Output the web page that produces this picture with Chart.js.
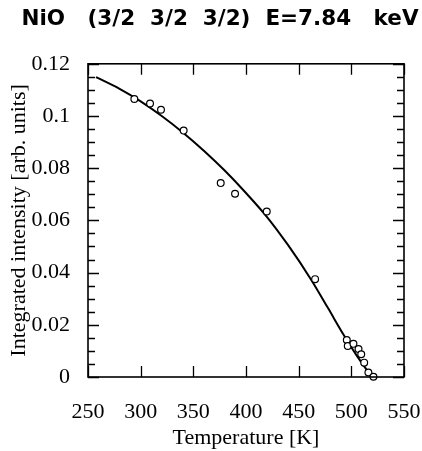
<!DOCTYPE html>
<html>
<head>
<meta charset="utf-8">
<script src="https://cdn.jsdelivr.net/npm/chart.js@4/dist/chart.umd.min.js"></script>
<style>
  html, body { margin: 0; padding: 0; background: #fff; }
  #wrap { width: 422px; height: 451px; position: relative; }
</style>
</head>
<body>
<div id="wrap"><canvas id="c"></canvas></div>
<script>
// Measured points (temperature in K, integrated intensity in arb. units)
const tempData      = [294, 308.9, 319.3, 340.8, 376, 389.6, 419.7, 465.6, 495.7, 496.6, 502, 506.8, 509.4, 512.2, 516.2, 521];
const intensityData = [0.1065, 0.1048, 0.1024, 0.0944, 0.0743, 0.0702, 0.0634, 0.0375, 0.0142, 0.0119, 0.0127, 0.0107, 0.0087, 0.0055, 0.0017, 0.0001];

// Fitted curve
const fitTemp      = [257.6, 280, 300, 320, 340, 360, 380, 400, 420, 440, 462, 478, 492.5, 505, 519.4];
const fitIntensity = [0.1149, 0.1104, 0.1056, 0.1000, 0.0937, 0.0867, 0.0790, 0.0705, 0.0613, 0.0505, 0.0372, 0.0263, 0.0163, 0.0083, 0];

const titleText = 'NiO   (3/2  3/2  3/2)  E=7.84   keV';
const xTitle = 'Temperature [K]';
const yTitle = 'Integrated intensity [arb. units]';

const serif = "'Liberation Serif', 'Times New Roman', serif";

const frameTicks = {
  id: 'frameTicks',
  afterDatasetsDraw(chart, args, opts) {
    const ctx = chart.ctx;
    const a = chart.chartArea;
    const xs = chart.scales.x, ys = chart.scales.y;
    ctx.save();
    ctx.strokeStyle = '#000';
    ctx.lineWidth = 1.3;
    ctx.beginPath();
    for (let v = xs.min; v <= xs.max + 1e-9; v += opts.xStep) {
      const px = Math.round(xs.getPixelForValue(v)) + 0.5;
      ctx.moveTo(px, a.bottom); ctx.lineTo(px, a.bottom - opts.majorLen);
      ctx.moveTo(px, a.top); ctx.lineTo(px, a.top + opts.majorLen);
    }
    const n = Math.round((ys.max - ys.min) / opts.yMinor);
    const every = Math.round(opts.yMajor / opts.yMinor);
    for (let i = 0; i <= n; i++) {
      const v = ys.min + i * opts.yMinor;
      const len = (i % every === 0) ? opts.majorLen : opts.minorLen;
      const py = Math.round(ys.getPixelForValue(v)) + 0.5;
      ctx.moveTo(a.left, py); ctx.lineTo(a.left + len, py);
      ctx.moveTo(a.right, py); ctx.lineTo(a.right - len, py);
    }
    ctx.stroke();
    ctx.lineWidth = 1.6;
    ctx.strokeRect(a.left, a.top, a.right - a.left, a.bottom - a.top);
    ctx.restore();
  }
};

new Chart(document.getElementById('c'), {
  data: {
    datasets: [
      {
        type: 'line',
        data: fitTemp.map((t, i) => ({ x: t, y: fitIntensity[i] })),
        borderColor: '#000',
        borderWidth: 2,
        pointRadius: 0,
        cubicInterpolationMode: 'monotone',
        fill: false,
        order: 2
      },
      {
        type: 'scatter',
        data: tempData.map((t, i) => ({ x: t, y: intensityData[i] })),
        pointStyle: 'circle',
        pointRadius: 3.4,
        pointBorderWidth: 1.2,
        borderColor: '#000',
        backgroundColor: '#fff',
        clip: false,
        order: 1
      }
    ]
  },
  options: {
    responsive: true,
    maintainAspectRatio: false,
    animation: false,
    devicePixelRatio: 1,
    layout: { padding: { left: 18, right: 0, top: 0, bottom: 0 } },
    plugins: {
      legend: { display: false },
      tooltip: { enabled: false },
      title: {
        display: true,
        text: titleText,
        color: '#000',
        font: { family: "'DejaVu Sans', sans-serif", size: 21.5, weight: 'bold', lineHeight: 1.2 },
        padding: { top: 6.5, bottom: 31.5 }
      },
      frameTicks: { xStep: 50, yMinor: 0.005, yMajor: 0.02, majorLen: 11, minorLen: 7 }
    },
    scales: {
      x: {
        type: 'linear',
        position: 'bottom',
        min: 250, max: 550,
        grid: { display: false },
        border: { display: false },
        ticks: {
          stepSize: 50,
          color: '#000',
          padding: 14,
          maxRotation: 0,
          font: { family: serif, size: 22 }
        },
        title: {
          display: true,
          text: xTitle,
          color: '#000',
          font: { family: serif, size: 22, lineHeight: 1.2 },
          padding: { top: 0, bottom: 0 }
        },
        afterFit(s) { s.height = 74; s.paddingLeft = 0; s.paddingRight = 0; }
      },
      y: {
        type: 'linear',
        position: 'left',
        min: 0, max: 0.12,
        grid: { display: false },
        border: { display: false },
        ticks: {
          stepSize: 0.02,
          color: '#000',
          padding: 10,
          font: { family: serif, size: 22 },
          callback: v => String(parseFloat(v.toFixed(3)))
        },
        title: {
          display: true,
          text: yTitle,
          color: '#000',
          font: { family: serif, size: 22, lineHeight: 1.2 },
          padding: { top: -11.5, bottom: 0 }
        },
        afterFit(s) { s.width = 70; s.paddingTop = 0; s.paddingBottom = 0; }
      },
      yRight: {
        type: 'linear',
        position: 'right',
        min: 0, max: 0.12,
        grid: { display: false },
        border: { display: false },
        ticks: { display: false },
        afterFit(s) { s.width = 18; s.paddingTop = 0; s.paddingBottom = 0; }
      }
    }
  },
  plugins: [frameTicks]
});
</script>
</body>
</html>
